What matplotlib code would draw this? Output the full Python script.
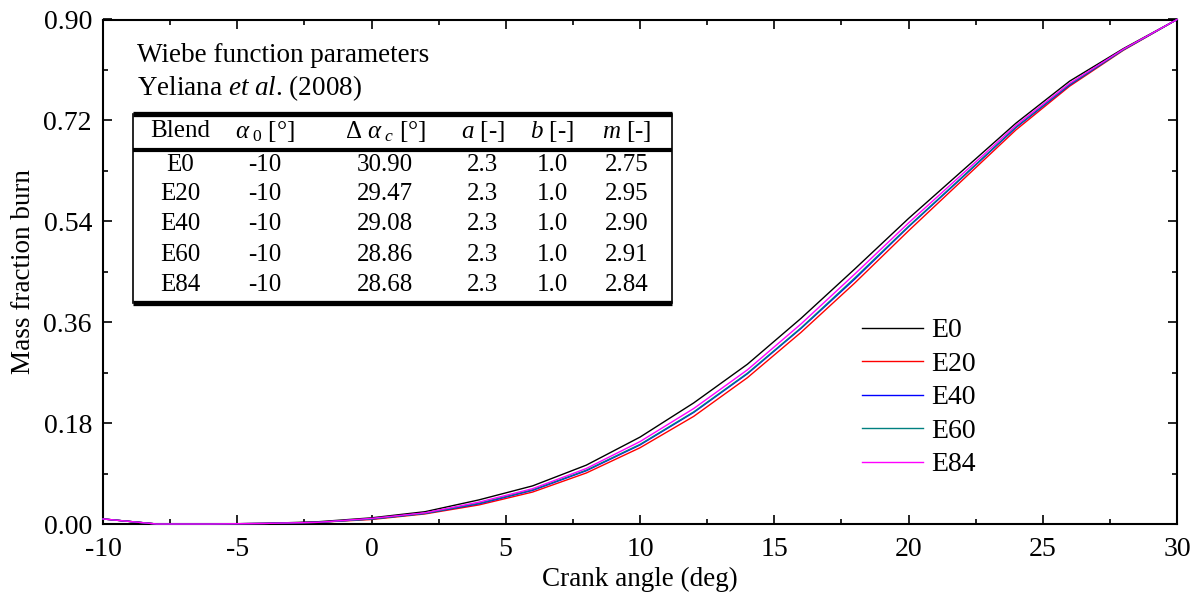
import matplotlib
matplotlib.use("Agg")
import matplotlib.pyplot as plt
from matplotlib.lines import Line2D
from matplotlib.ticker import MultipleLocator, FormatStrFormatter

plt.rcParams['font.family'] = ['Liberation Serif', 'DejaVu Serif']
plt.rcParams['mathtext.fontset'] = 'custom'
plt.rcParams['mathtext.rm'] = 'Liberation Serif'
plt.rcParams['mathtext.it'] = 'Liberation Serif:italic'
plt.rcParams['mathtext.bf'] = 'Liberation Serif:bold'
plt.rcParams['axes.unicode_minus'] = False

# Crank angle samples (deg) and mass fraction burned per blend
angle = [-10, -8, -6, -4, -2, 0, 2, 4, 6, 8, 10, 12, 14, 16, 18, 20, 22, 24, 26, 28, 30]
E0 = [0.009, 0.0, 0.0, 0.001, 0.004, 0.011, 0.022, 0.043, 0.068, 0.105, 0.155,
      0.216, 0.285, 0.367, 0.455, 0.545, 0.630, 0.715, 0.790, 0.848, 0.900]
E20 = [0.009, 0.0, 0.0, 0.001, 0.003, 0.008, 0.018, 0.034, 0.057, 0.091, 0.136,
       0.192, 0.261, 0.342, 0.430, 0.523, 0.613, 0.703, 0.781, 0.845, 0.900]
E40 = [0.009, 0.0, 0.0, 0.001, 0.003, 0.009, 0.019, 0.036, 0.060, 0.095, 0.141,
       0.199, 0.268, 0.349, 0.437, 0.530, 0.618, 0.707, 0.783, 0.846, 0.900]
E60 = [0.009, 0.0, 0.0, 0.001, 0.003, 0.009, 0.019, 0.037, 0.061, 0.096, 0.142,
       0.200, 0.269, 0.350, 0.439, 0.531, 0.619, 0.708, 0.784, 0.846, 0.900]
E84 = [0.009, 0.0, 0.0, 0.001, 0.003, 0.010, 0.020, 0.039, 0.063, 0.099, 0.147,
       0.206, 0.275, 0.357, 0.446, 0.537, 0.624, 0.711, 0.786, 0.847, 0.900]

series = [("E0", E0, "#000000"), ("E20", E20, "#ff0000"), ("E40", E40, "#0000ff"),
          ("E60", E60, "#008080"), ("E84", E84, "#ff00ff")]

# Wiebe parameter table
table_header = ["Blend", r"$\alpha_{\ 0}$ [°]", r"$\Delta\ \alpha_{\ c}$ [°]",
                r"$a$ [-]", r"$b$ [-]", r"$m$ [-]"]
blends = ["E0", "E20", "E40", "E60", "E84"]
alpha0 = ["-10", "-10", "-10", "-10", "-10"]
delta_alpha = ["30.90", "29.47", "29.08", "28.86", "28.68"]
a_par = ["2.3", "2.3", "2.3", "2.3", "2.3"]
b_par = ["1.0", "1.0", "1.0", "1.0", "1.0"]
m_par = ["2.75", "2.95", "2.90", "2.91", "2.84"]

W, H = 1199, 594
fig = plt.figure(figsize=(W / 100, H / 100), dpi=100)
ax = fig.add_axes([103 / W, 1 - 524 / H, (1177 - 103) / W, (524 - 19.5) / H])

for i, (name, vals, col) in enumerate(series):
    ax.plot(angle, vals, color=col, lw=1.0, label=name, clip_on=False, zorder=3 + i)

ax.set_xlim(-10, 30)
ax.set_ylim(0, 0.90)
ax.xaxis.set_major_locator(MultipleLocator(5))
ax.xaxis.set_minor_locator(MultipleLocator(2.5))
ax.yaxis.set_major_locator(MultipleLocator(0.18))
ax.yaxis.set_minor_locator(MultipleLocator(0.09))
ax.yaxis.set_major_formatter(FormatStrFormatter('%.2f'))
ax.tick_params(which='both', direction='in', top=True, right=True,
               labelsize=20, width=1.2)
ax.tick_params(axis='x', which='major', length=6.5, pad=9)
ax.tick_params(axis='y', which='major', length=6.5, pad=8)
ax.tick_params(which='minor', length=3.5)
for sp in ax.spines.values():
    sp.set_linewidth(1.5)

ax.set_xlabel("Crank angle (deg)", fontsize=19.5, labelpad=4)
ax.set_ylabel("Mass fraction burn", fontsize=19.5, labelpad=5)

leg = ax.legend(loc='upper left',
                bbox_to_anchor=((862 - 103) / (1177 - 103), 1 - (318 - 19.5) / (524 - 19.5)),
                frameon=False, fontsize=20, handlelength=2.2, handletextpad=0.3,
                labelspacing=0.29, borderaxespad=0, borderpad=0)


def fx(px):
    return px / W


def fy(py):
    return 1 - py / H


# Caption above the table
fig.text(fx(137), fy(55), "Wiebe function parameters", fontsize=19.5, va='center', ha='left')
fig.text(fx(137), fy(88), r"Yeliana $\mathit{et\ al}$. (2008)", fontsize=19.5,
         va='center', ha='left')

# Table rules
tl, tr = 133, 672
fig.add_artist(Line2D([fx(tl), fx(tr)], [fy(114), fy(114)], color='k', lw=3.8,
                      solid_capstyle='butt'))
fig.add_artist(Line2D([fx(tl), fx(tr)], [fy(150), fy(150)], color='k', lw=3.0,
                      solid_capstyle='butt'))
fig.add_artist(Line2D([fx(tl), fx(tr)], [fy(303), fy(303)], color='k', lw=3.8,
                      solid_capstyle='butt'))
fig.add_artist(Line2D([fx(tl), fx(tl)], [fy(114), fy(303)], color='k', lw=1.2))
fig.add_artist(Line2D([fx(tr), fx(tr)], [fy(114), fy(303)], color='k', lw=1.2))

col_x = [180, 265, 385, 483, 552, 627]
row_y = [165, 194, 224, 255, 285]
for cx, txt in zip(col_x, table_header):
    fig.text(fx(cx), fy(131), txt, fontsize=18, ha='center', va='center')
columns = [blends, alpha0, delta_alpha, a_par, b_par, m_par]
for cx, col in zip(col_x, columns):
    for ry, txt in zip(row_y, col):
        fig.text(fx(cx), fy(ry), txt, fontsize=18, ha='center', va='center')

fig.savefig("out.png", dpi=100)
